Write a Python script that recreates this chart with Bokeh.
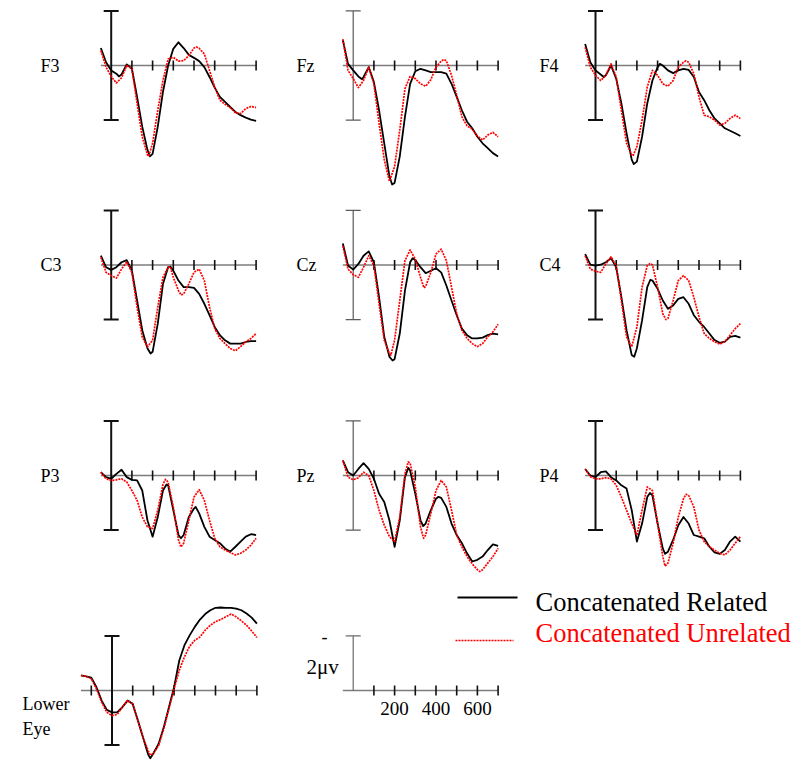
from bokeh.plotting import figure
from bokeh.models import Range1d, Label
from bokeh.layouts import row, column
from bokeh.embed import file_html
from bokeh.resources import INLINE
from bokeh.core.properties import value

# ---------------- data (ms, microvolts; positive plotted downward) ----------------
T = [-50, -25, 0, 25, 50, 75, 100, 125, 150, 175, 200, 225, 250, 275, 300, 325,
     350, 375, 400, 425, 450, 475, 500, 525, 550, 575, 600, 625, 650, 675, 700]
T_EYE = [-150, -125, -100, -75] + T

TICKS = [100, 200, 300, 400, 500, 600, 700]
EYE_TICKS = [-100, 100, 200, 300, 400, 500, 600, 700]
SCALE_LABEL_TICKS = [200, 400, 600]
SCALE_LABELS = ["200", "400", "600"]
BAR_UV = 2
SCALE_TEXT = "2\u03bcv"
LEGEND_LABELS = ["Concatenated Related", "Concatenated Unrelated"]

F3_rel = [-0.64, -0.12, 0.18, 0.30, 0.33, -0.04, 0.12, 1.15, 2.24, 3.09, 3.24, 2.24, 0.97, 0.00, -0.61, -0.85,
          -0.64, -0.39, -0.28, -0.16, 0.06, 0.42, 0.81, 1.15, 1.33, 1.52, 1.70, 1.82, 1.91, 1.98, 2.03]
F3_unr = [-0.55, 0.06, 0.40, 0.64, 0.45, 0.00, 0.12, 1.39, 2.61, 3.27, 2.85, 1.64, 0.55, -0.24, -0.30, -0.16,
          -0.18, -0.36, -0.64, -0.63, -0.42, 0.18, 0.79, 1.27, 1.42, 1.54, 1.73, 1.76, 1.58, 1.50, 1.54]
Fz_rel = [-0.93, -0.06, 0.18, 0.40, 0.42, 0.06, 0.61, 1.64, 2.85, 4.06, 4.30, 3.33, 1.88, 0.67, 0.21, 0.12,
          0.18, 0.24, 0.24, 0.24, 0.30, 0.67, 1.15, 1.64, 2.06, 2.30, 2.61, 2.85, 3.03, 3.21, 3.33]
Fz_unr = [-0.97, 0.18, 0.48, 0.81, 0.55, 0.06, 0.67, 2.12, 3.45, 4.24, 3.70, 2.36, 0.85, 0.40, 0.48, 0.67,
          0.76, 0.52, 0.06, -0.16, -0.18, 0.36, 1.09, 1.88, 2.21, 2.33, 2.58, 2.73, 2.55, 2.45, 2.61]
F4_rel = [-0.79, -0.12, 0.18, 0.33, 0.36, 0.00, 0.48, 1.39, 2.48, 3.45, 3.52, 2.61, 1.39, 0.55, 0.06, 0.00,
          0.18, 0.28, 0.18, 0.12, 0.16, 0.42, 0.97, 1.27, 1.64, 1.94, 2.12, 2.30, 2.39, 2.48, 2.58]
F4_unr = [-0.67, 0.06, 0.36, 0.55, 0.36, -0.06, 0.42, 1.64, 2.85, 3.27, 2.97, 2.00, 0.79, 0.18, 0.36, 0.67,
          0.76, 0.55, 0.06, -0.12, -0.12, 0.30, 1.15, 1.82, 1.88, 2.00, 2.18, 2.12, 1.94, 1.82, 1.94]
C3_rel = [-0.34, 0.08, 0.18, 0.08, -0.10, -0.18, 0.21, 1.30, 2.39, 3.05, 3.18, 2.15, 0.70, 0.08, 0.21, 0.57,
          0.81, 0.81, 0.84, 1.06, 1.42, 1.84, 2.27, 2.57, 2.76, 2.88, 2.88, 2.88, 2.82, 2.79, 2.79]
C3_unr = [-0.28, 0.27, 0.39, 0.48, 0.15, -0.12, 0.27, 1.54, 2.64, 3.00, 2.76, 1.54, 0.45, 0.08, 0.45, 0.94,
          1.06, 0.69, 0.27, 0.15, 0.57, 1.54, 2.33, 2.69, 2.88, 3.06, 3.14, 2.99, 2.82, 2.69, 2.51]
Cz_rel = [-0.79, 0.02, 0.17, -0.04, -0.34, -0.50, -0.10, 1.18, 2.63, 3.36, 3.45, 2.51, 0.94, -0.10, -0.18, 0.08,
          0.30, 0.21, 0.12, 0.27, 0.75, 1.30, 1.84, 2.33, 2.57, 2.69, 2.69, 2.66, 2.57, 2.51, 2.54]
Cz_unr = [-0.70, 0.15, 0.35, 0.45, 0.08, -0.34, 0.02, 1.42, 2.75, 3.24, 2.75, 1.30, -0.16, -0.55, -0.22, 0.45,
          0.79, 0.27, -0.40, -0.58, -0.16, 0.81, 1.78, 2.39, 2.69, 2.88, 2.99, 2.88, 2.63, 2.45, 2.17]
C4_rel = [-0.40, -0.01, 0.02, -0.01, -0.10, -0.25, 0.08, 1.18, 2.39, 3.30, 3.05, 2.03, 0.81, 0.57, 0.87, 1.30,
          1.60, 1.48, 1.24, 1.18, 1.42, 1.84, 2.08, 2.27, 2.51, 2.75, 2.85, 2.81, 2.63, 2.60, 2.66]
C4_unr = [-0.34, 0.15, 0.23, 0.27, -0.04, -0.30, 0.02, 1.30, 2.63, 3.00, 2.27, 0.81, 0.02, -0.01, 0.81, 1.78,
          1.96, 1.30, 0.57, 0.39, 0.57, 1.18, 1.90, 2.51, 2.69, 2.81, 2.90, 2.81, 2.57, 2.33, 2.15]
P3_rel = [-0.12, 0.06, 0.12, -0.06, -0.21, 0.06, 0.16, 0.18, 0.55, 1.64, 2.24, 1.52, 0.55, 0.36, 1.27, 2.18,
          2.18, 1.52, 1.21, 1.39, 1.88, 2.24, 2.36, 2.48, 2.67, 2.79, 2.61, 2.42, 2.24, 2.15, 2.18]
P3_unr = [-0.12, 0.12, 0.18, 0.16, 0.12, 0.24, 0.55, 0.91, 1.52, 1.88, 1.94, 1.27, 0.33, 0.24, 1.15, 2.36,
          2.48, 1.64, 0.79, 0.52, 0.91, 1.64, 2.30, 2.61, 2.73, 2.82, 2.91, 2.85, 2.73, 2.55, 2.30]
Pz_rel = [-0.55, -0.12, 0.00, -0.24, -0.45, -0.24, 0.12, 0.67, 0.97, 1.64, 2.61, 1.64, 0.06, -0.18, 0.67, 1.64,
          1.76, 1.27, 0.85, 0.82, 1.15, 1.76, 2.18, 2.48, 2.85, 3.15, 3.09, 2.97, 2.73, 2.52, 2.58]
Pz_unr = [-0.55, 0.06, 0.16, 0.08, -0.12, 0.00, 0.55, 1.27, 1.82, 2.24, 2.42, 1.52, -0.06, -0.45, 0.42, 1.88,
          2.18, 1.39, 0.55, 0.18, 0.42, 1.27, 2.18, 2.61, 2.97, 3.24, 3.45, 3.45, 3.21, 2.97, 2.67]
P4_rel = [-0.24, 0.00, 0.06, -0.12, -0.15, 0.06, 0.18, 0.36, 0.48, 1.27, 2.42, 1.76, 0.79, 0.73, 1.76, 2.67,
          2.79, 2.36, 1.82, 1.52, 1.76, 2.18, 2.24, 2.30, 2.61, 2.82, 2.87, 2.73, 2.42, 2.24, 2.42]
P4_unr = [-0.24, 0.04, 0.12, 0.12, 0.08, 0.12, 0.36, 0.79, 1.27, 1.76, 2.18, 1.27, 0.42, 0.55, 1.76, 2.97,
          3.21, 2.48, 1.52, 0.85, 0.73, 1.15, 2.00, 2.42, 2.61, 2.73, 2.85, 2.91, 2.73, 2.48, 2.24]
EYE_rel = [-0.55, -0.52, -0.47, -0.12, 0.37, 0.71, 0.80, 0.80, 0.61, 0.37, 0.49, 1.10, 1.72, 2.35, 2.30,
           1.96, 1.35, 0.61, -0.12, -1.10, -1.66, -2.02, -2.33, -2.60, -2.80, -2.94, -3.03, -3.04, -3.03,
           -3.03, -3.00, -2.94, -2.82, -2.67, -2.45]
EYE_unr = [-0.55, -0.52, -0.43, -0.06, 0.43, 0.80, 0.92, 0.88, 0.61, 0.37, 0.49, 1.10, 1.72, 2.21, 2.31,
           2.02, 1.41, 0.67, -0.06, -0.74, -1.23, -1.62, -1.84, -1.96, -2.21, -2.39, -2.52, -2.60, -2.70,
           -2.80, -2.70, -2.55, -2.39, -2.18, -1.94]

# extra samples read at the peaks/troughs that fall between grid times: (ms, microvolts)
F3_rel_pk = [(37, 0.40), (187, 3.33)]
F3_unr_pk = [(181, 3.33), (412, -0.68)]
Fz_rel_pk = [(43, 0.50), (188, 4.36)]
Fz_unr_pk = [(437, -0.22)]
F4_rel_pk = [(40, 0.42), (185, 3.61), (311, -0.06)]
F4_unr_pk = [(181, 3.31), (437, -0.17)]
C3_rel_pk = [(190, 3.24), (287, 0.06)]
C3_unr_pk = [(285, 0.06), (338, 1.10)]
Cz_rel_pk = [(190, 3.50), (287, -0.25)]
Cz_unr_pk = [(182, 3.30), (342, 0.84)]
C4_rel_pk = [(187, 3.36), (265, 0.54)]
C4_unr_pk = [(263, -0.05), (340, 2.00)]
P3_rel_pk = [(267, 0.33), (337, 2.30), (408, 1.15)]
P3_unr_pk = [(262, 0.14), (337, 2.62)]
Pz_rel_pk = [(266, -0.28), (338, 1.85), (412, 0.78)]
Pz_unr_pk = [(266, -0.50), (340, 2.30), (612, 3.52)]
P4_rel_pk = [(263, 0.64), (336, 2.87)]
P4_unr_pk = [(336, 3.32), (437, 0.69)]
EYE_rel_pk = [(185, 2.48)]
EYE_unr_pk = [(185, 2.37)]

GRID = [
    [("F3", F3_rel, F3_rel_pk, F3_unr, F3_unr_pk), ("Fz", Fz_rel, Fz_rel_pk, Fz_unr, Fz_unr_pk),
     ("F4", F4_rel, F4_rel_pk, F4_unr, F4_unr_pk)],
    [("C3", C3_rel, C3_rel_pk, C3_unr, C3_unr_pk), ("Cz", Cz_rel, Cz_rel_pk, Cz_unr, Cz_unr_pk),
     ("C4", C4_rel, C4_rel_pk, C4_unr, C4_unr_pk)],
    [("P3", P3_rel, P3_rel_pk, P3_unr, P3_unr_pk), ("Pz", Pz_rel, Pz_rel_pk, Pz_unr, Pz_unr_pk),
     ("P4", P4_rel, P4_rel_pk, P4_unr, P4_unr_pk)],
]

# ---------------- layout / style (page pixel coordinates) ----------------
SX = 0.207   # px per ms
SY = 27.3    # px per microvolt
FONT = "Liberation Serif"
COL_LEFT = [0, 262, 508]
COL_W = [262, 246, 290]
COL_BAR = [110.7, 352.7, 595.0]
COL_LABEL_X = [40, 296, 539]
ROW_TOP = [0, 190, 400]
ROW_H = [190, 210, 180]
ROW_AXIS = [65.0, 264.5, 475.0]
BOTTOM_TOP, BOTTOM_H, BOTTOM_AXIS = 580, 185, 690.0
EYE_BAR = 111.5
SB = 352.7
TICK_HALF = 5 / SY
CAP_HALF = 7.5 / SX
AXIS_COLOR = "#7c7c7c"
REL_COLOR = "#000000"
UNR_COLOR = "#ff0000"
UNR_DASH = "2 1"


def make_fig(left, top, w, h, bar_x, axis_y):
    x0 = -(bar_x - left) / SX
    y_top = -(axis_y - top) / SY
    y_bot = (top + h - axis_y) / SY
    p = figure(width=w, height=h,
               x_range=Range1d(x0, x0 + w / SX), y_range=Range1d(y_bot, y_top),
               x_axis_type=None, y_axis_type=None,
               toolbar_location=None, output_backend="svg",
               min_border=0, outline_line_color=None)
    p.background_fill_color = "white"
    p.border_fill_color = "white"
    return p


def draw_axes(p, t0, ticks, bar_color, bar_w, lo=-BAR_UV, hi=BAR_UV, caps=None):
    p.segment(x0=[t0], y0=[0], x1=[TICKS[-1]], y1=[0], line_color=AXIS_COLOR, line_width=1.4)
    p.segment(x0=ticks, y0=[-TICK_HALF] * len(ticks), x1=ticks, y1=[TICK_HALF] * len(ticks),
              line_color="#111111", line_width=1.6)
    p.segment(x0=[0], y0=[lo], x1=[0], y1=[hi], line_color=bar_color, line_width=bar_w)
    caps = [lo, hi] if caps is None else caps
    p.segment(x0=[-CAP_HALF] * len(caps), y0=caps, x1=[CAP_HALF] * len(caps), y1=caps,
              line_color=bar_color, line_width=bar_w)


def merged(t, vals, peaks):
    pts = sorted(list(zip(t, vals)) + list(peaks))
    return [a for a, _ in pts], [b for _, b in pts]


def draw_curves(p, t, rel, rel_pk, unr, unr_pk):
    xr, yr = merged(t, rel, rel_pk)
    xu, yu = merged(t, unr, unr_pk)
    p.line(xr, yr, line_color=REL_COLOR, line_width=1.8, line_join="round")
    p.line(xu, yu, line_color=UNR_COLOR, line_width=1.7, line_dash=UNR_DASH, line_join="round")


def add_text(p, bar_x, axis_y, px, py, txt, size, color="black", align="left"):
    p.add_layout(Label(x=(px - bar_x) / SX, y=(py - axis_y) / SY, text=txt,
                       text_font=FONT, text_font_size=size, text_baseline="middle",
                       text_align=align, text_color=color))


rows = []
for r, panel_row in enumerate(GRID):
    figs = []
    for c, (name, rel, rel_pk, unr, unr_pk) in enumerate(panel_row):
        p = make_fig(COL_LEFT[c], ROW_TOP[r], COL_W[c], ROW_H[r], COL_BAR[c], ROW_AXIS[r])
        if c == 1:
            draw_axes(p, T[0], TICKS, "#5a5a5a", 1.2)
        else:
            draw_axes(p, T[0], TICKS, "#111111", 2.0)
        draw_curves(p, T, rel, rel_pk, unr, unr_pk)
        add_text(p, COL_BAR[c], ROW_AXIS[r], COL_LABEL_X[c], ROW_AXIS[r], name, "18px")
        figs.append(p)
    rows.append(row(*figs))

# Lower eye panel
pe = make_fig(0, BOTTOM_TOP, 262, BOTTOM_H, EYE_BAR, BOTTOM_AXIS)
draw_axes(pe, T_EYE[0], EYE_TICKS, "#111111", 2.0)
draw_curves(pe, T_EYE, EYE_rel, EYE_rel_pk, EYE_unr, EYE_unr_pk)
add_text(pe, EYE_BAR, BOTTOM_AXIS, 22, 703, "Lower", "18px")
add_text(pe, EYE_BAR, BOTTOM_AXIS, 22, 728, "Eye", "18px")

# Scale bar + legend panel
ps = make_fig(262, BOTTOM_TOP, 536, BOTTOM_H, SB, BOTTOM_AXIS)
draw_axes(ps, T[0], TICKS, "#6a6a6a", 1.2, lo=-BAR_UV, hi=0, caps=[-BAR_UV])
add_text(ps, SB, BOTTOM_AXIS, 324, 636, "-", "18px", align="center")
add_text(ps, SB, BOTTOM_AXIS, 306, 666, SCALE_TEXT, "21px")
ps.text(x=SCALE_LABEL_TICKS, y=[18 / SY] * len(SCALE_LABEL_TICKS), text=SCALE_LABELS,
        text_font=value(FONT), text_font_size=value("19px"), text_align="center",
        text_baseline="middle", text_color="black")

# legend
ps.line([(457 - SB) / SX, (517 - SB) / SX], [(597 - BOTTOM_AXIS) / SY] * 2,
        line_color=REL_COLOR, line_width=1.8)
ps.line([(455 - SB) / SX, (513 - SB) / SX], [(640 - BOTTOM_AXIS) / SY] * 2,
        line_color=UNR_COLOR, line_width=1.7, line_dash=UNR_DASH)
add_text(ps, SB, BOTTOM_AXIS, 535, 601, LEGEND_LABELS[0], "26.5px", REL_COLOR)
add_text(ps, SB, BOTTOM_AXIS, 535, 632, LEGEND_LABELS[1], "26.5px", UNR_COLOR)

rows.append(row(pe, ps))
layout = column(*rows)

open("out.html", "w").write(file_html(layout, INLINE))
